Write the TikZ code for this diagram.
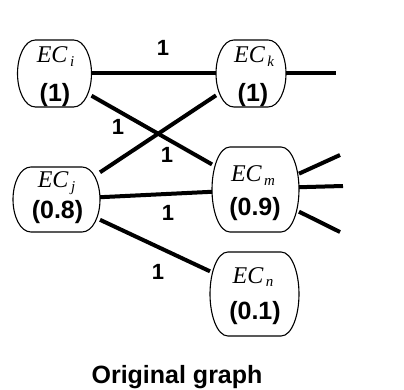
\documentclass[tikz,border=0pt]{standalone}
\usepackage{fontspec}
\setmainfont{Liberation Serif}
\newfontfamily\arialb[BoldFont={* Bold}]{Liberation Sans}
\usetikzlibrary{calc}
\tikzset{
  ecshape/.style={draw=none, inner sep=0pt, outer sep=0pt, minimum width=#1},
  boxline/.style={draw=black, line width=1.1pt},
  edge/.style={line width=4pt},
  ectext/.style={anchor=base, inner sep=0pt, font=\fontsize{24}{24}\selectfont\itshape},
  valtext/.style={inner sep=0pt, font=\fontsize{25}{25}\selectfont\arialb\bfseries},
  wlabel/.style={inner sep=0pt, font=\fontsize{22}{22}\selectfont\arialb\bfseries},
  title/.style={inner sep=0pt, font=\fontsize{25}{25}\selectfont\arialb\bfseries}
}
\newcommand\ecname[1]{EC\raisebox{-3.5pt}{\fontsize{15}{15}\selectfont\,#1}}
\newcommand\ecoutline[1]{%
  \draw[boxline] let \p1=(#1.north west), \p2=(#1.south east), \p3=(#1.center) in
  (\x1+18pt,\y1) -- (\x2-18pt,\y1)
  .. controls (\x2-7pt,\y1) and (\x2,{\y1-0.25*(\y1-\y2)}) .. (\x2,\y3)
  .. controls (\x2,{\y2+0.25*(\y1-\y2)}) and (\x2-7pt,\y2) .. (\x2-18pt,\y2)
  -- (\x1+18pt,\y2)
  .. controls (\x1+7pt,\y2) and (\x1,{\y2+0.25*(\y1-\y2)}) .. (\x1,\y3)
  .. controls (\x1,{\y1-0.25*(\y1-\y2)}) and (\x1+7pt,\y1) .. cycle;}
\begin{document}
\begin{tikzpicture}[x=1pt, y=-1pt]
\useasboundingbox (0,0) rectangle (404,390);
% box frames
\node[ecshape=74pt, minimum height=67pt] (i) at (54.5,73.5) {};
\node[ecshape=70pt, minimum height=67pt] (k) at (251,73.5) {};
\node[ecshape=87pt, minimum height=85pt] (m) at (255.5,189.5) {};
\node[ecshape=87pt, minimum height=65pt] (j) at (56.5,199.5) {};
\node[ecshape=89pt, minimum height=84pt] (n) at (254.5,294) {};
\foreach \b in {i,k,m,j,n} {\ecoutline{\b}}
% texts
\node[ectext] (ti) at (55.5,63) {\ecname{i}};
\node[valtext] (vi) at (55,95) {(1)};
\node[ectext] (tk) at (254,63) {\ecname{k}};
\node[valtext] (vk) at (253,95) {(1)};
\node[ectext] (tm) at (253,182) {\ecname{m}};
\node[valtext] (vm) at (255,209) {(0.9)};
\node[ectext] (tj) at (56.5,188) {\ecname{j}};
\node[valtext] (vj) at (57.5,212) {(0.8)};
\node[ectext] (tn) at (253,283) {\ecname{n}};
\node[valtext] (vn) at (255,313) {(0.1)};
% free ends
\coordinate (ko) at (336,73.5);
\coordinate (mo1) at (340,155);
\coordinate (mo2) at (343,186);
\coordinate (mo3) at (340,232);
% edges
\draw[edge] (i.east) -- (k.west);
\draw[edge] (i.-31) -- (m.150.6);
\draw[edge] (j.32.3) -- (k.212.3);
\draw[edge] (j.3.3) -- (m.183.3);
\draw[edge] (j.-25.2) -- (n.153.7);
\draw[edge] (k.east) -- (ko);
\draw[edge] (m.20.8) -- (mo1);
\draw[edge] (m.3.3) -- (mo2);
\draw[edge] (m.-27.3) -- (mo3);
% weights
\node[wlabel] (w1) at (163,48) {1};
\node[wlabel] (w2) at (118,127) {1};
\node[wlabel] (w3) at (167,155) {1};
\node[wlabel] (w4) at (168,213) {1};
\node[wlabel] (w5) at (158,272) {1};
% caption
\node[title] (cap) at (177,377) {Original graph};
\end{tikzpicture}
\end{document}
